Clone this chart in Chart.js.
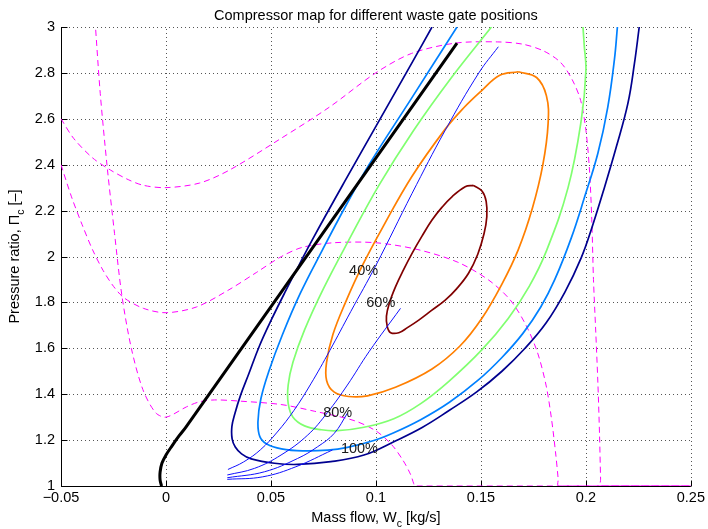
<!DOCTYPE html>
<html>
<head>
<meta charset="utf-8">
<script src="https://cdn.jsdelivr.net/npm/chart.js"></script>
<style>
html,body{margin:0;padding:0;background:#fff;}
canvas{display:block;}
</style>
</head>
<body>
<canvas id="c" width="708" height="529"></canvas>
<script>
// ---------------- data (mass flow W [kg/s], pressure ratio Pi [-]) ----------------
const titleText = 'Compressor map for different waste gate positions';
const xTickLabels = ['\u22120.05', '0', '0.05', '0.1', '0.15', '0.2', '0.25'];
const yTickLabels = ['1', '1.2', '1.4', '1.6', '1.8', '2', '2.2', '2.4', '2.6', '2.8', '3'];

// surge line (thick black)
const surgeW  = [-0.0021, -0.0028, -0.0028, -0.0019, 0.0, 0.0028, 0.0062, 0.0095, 0.1386];
const surgePi = [1.0, 1.026, 1.061, 1.100, 1.135, 1.174, 1.218, 1.257, 2.93];

// speed lines (magenta dashed)
const speed1W  = [-0.05, -0.044, -0.035, -0.0265, -0.018, -0.0107, 0, 0.016, 0.0303, 0.054, 0.0777, 0.0999, 0.117, 0.138, 0.158, 0.170, 0.180, 0.188, 0.1935, 0.1975, 0.2, 0.2017, 0.2028, 0.2036, 0.2047, 0.2057, 0.2065, 0.207, 0.2072, 0.25];
const speed1Pi = [2.60, 2.515, 2.43, 2.377, 2.335, 2.31, 2.30, 2.32, 2.377, 2.51, 2.65, 2.80, 2.885, 2.93, 2.935, 2.925, 2.895, 2.845, 2.77, 2.68, 2.55, 2.377, 2.16, 1.90, 1.67, 1.45, 1.22, 1.03, 1.0, 1.0];
const speed2W  = [-0.05, -0.045, -0.040, -0.035, -0.030, -0.025, -0.020, -0.0107, 0, 0.0145, 0.03, 0.043, 0.055, 0.065, 0.08, 0.0999, 0.12, 0.139, 0.1536, 0.164, 0.1715, 0.177, 0.181, 0.1835, 0.1855, 0.1868, 0.187, 0.25];
const speed2Pi = [2.40, 2.26, 2.14, 2.03, 1.94, 1.87, 1.82, 1.774, 1.755, 1.78, 1.855, 1.93, 2.0, 2.04, 2.06, 2.06, 2.03, 1.975, 1.898, 1.81, 1.70, 1.58, 1.44, 1.30, 1.15, 1.03, 1.0, 1.0];
const speed3W  = [-0.0338, -0.0313, -0.028, -0.0245, -0.021, -0.0165, -0.011, -0.005, 0, 0.0098, 0.016, 0.0232, 0.035, 0.0548, 0.0706, 0.0896, 0.1, 0.1075, 0.113, 0.1165, 0.118, 0.1185, 0.25];
const speed3Pi = [3.03, 2.71, 2.39, 2.10, 1.83, 1.60, 1.42, 1.32, 1.30, 1.345, 1.367, 1.375, 1.37, 1.355, 1.326, 1.285, 1.24, 1.18, 1.11, 1.05, 1.01, 1.0, 1.0];

// efficiency contours (outer -> inner)
const eff1W  = [0.1267, 0.1172, 0.1014, 0.0856, 0.0698, 0.0635, 0.057, 0.0505, 0.0445, 0.0395, 0.0355, 0.0328, 0.0314, 0.0315, 0.033, 0.036, 0.0406, 0.0517, 0.0627, 0.0785, 0.0943, 0.1085, 0.122, 0.135, 0.148, 0.160, 0.171, 0.181, 0.190, 0.1978, 0.203, 0.2088, 0.2145, 0.22, 0.2231, 0.2254];
const eff1Pi = [3.0, 2.845, 2.59, 2.335, 2.075, 1.965, 1.85, 1.73, 1.61, 1.49, 1.395, 1.315, 1.26, 1.205, 1.17, 1.14, 1.118, 1.099, 1.094, 1.106, 1.135, 1.193, 1.255, 1.33, 1.41, 1.50, 1.60, 1.71, 1.845, 1.995, 2.13, 2.30, 2.478, 2.667, 2.84, 3.0];
const eff2W  = [0.1386, 0.117, 0.0967, 0.0856, 0.0746, 0.064, 0.0555, 0.049, 0.0452, 0.0438, 0.0447, 0.048, 0.055, 0.065, 0.077, 0.0864, 0.099, 0.1085, 0.1215, 0.135, 0.1488, 0.160, 0.170, 0.1785, 0.1852, 0.193, 0.1994, 0.2057, 0.2104, 0.2136, 0.215];
const eff2Pi = [3.0, 2.69, 2.40, 2.22, 2.03, 1.84, 1.66, 1.50, 1.38, 1.28, 1.215, 1.183, 1.162, 1.153, 1.156, 1.168, 1.198, 1.232, 1.29, 1.365, 1.462, 1.56, 1.665, 1.78, 1.90, 2.08, 2.26, 2.45, 2.65, 2.86, 3.0];
const eff3W  = [0.155, 0.136, 0.118, 0.1014, 0.087, 0.075, 0.066, 0.0605, 0.0582, 0.0582, 0.0605, 0.066, 0.074, 0.0817, 0.0943, 0.1085, 0.1215, 0.1346, 0.1504, 0.163, 0.173, 0.181, 0.1915, 0.1978, 0.2, 0.1992, 0.1986];
const eff3Pi = [3.0, 2.78, 2.55, 2.31, 2.07, 1.86, 1.68, 1.54, 1.44, 1.36, 1.30, 1.262, 1.245, 1.241, 1.256, 1.293, 1.36, 1.455, 1.593, 1.73, 1.87, 2.02, 2.30, 2.595, 2.81, 2.92, 3.0];
const eff4W  = [0.1678, 0.159, 0.150, 0.1415, 0.133, 0.1172, 0.104, 0.0935, 0.0855, 0.0795, 0.0765, 0.0765, 0.080, 0.087, 0.096, 0.1093, 0.1267, 0.140, 0.1504, 0.160, 0.1678, 0.1745, 0.1795, 0.182, 0.1812, 0.1765, 0.1678];
const eff4Pi = [2.805, 2.79, 2.72, 2.645, 2.555, 2.35, 2.14, 1.96, 1.80, 1.66, 1.54, 1.46, 1.41, 1.39, 1.393, 1.43, 1.51, 1.61, 1.73, 1.88, 2.03, 2.21, 2.40, 2.58, 2.70, 2.78, 2.805];
const eff5W  = [0.1464, 0.1505, 0.1525, 0.1528, 0.1515, 0.1485, 0.1441, 0.1385, 0.133, 0.1265, 0.1204, 0.115, 0.1109, 0.107, 0.1054, 0.105, 0.1065, 0.1093, 0.113, 0.1172, 0.122, 0.1267, 0.1315, 0.1362, 0.1425, 0.1464];
const eff5Pi = [2.31, 2.285, 2.24, 2.173, 2.10, 2.01, 1.927, 1.86, 1.81, 1.765, 1.723, 1.69, 1.668, 1.668, 1.694, 1.74, 1.80, 1.868, 1.94, 2.014, 2.09, 2.159, 2.215, 2.26, 2.304, 2.31];

// waste gate operating lines (thin blue)
const wg40W   = [0.0295, 0.037, 0.045, 0.053, 0.061, 0.069, 0.078, 0.088, 0.0999, 0.1172, 0.133, 0.149, 0.1583];
const wg40Pi  = [1.072, 1.105, 1.158, 1.235, 1.33, 1.445, 1.59, 1.76, 1.96, 2.275, 2.55, 2.80, 2.914];
const wg60W   = [0.0292, 0.0422, 0.0548, 0.0675, 0.0769, 0.0864, 0.0967, 0.1117];
const wg60Pi  = [1.048, 1.077, 1.135, 1.222, 1.32, 1.44, 1.585, 1.774];
const wg80W   = [0.0292, 0.0469, 0.0627, 0.0722, 0.0801, 0.0864];
const wg80Pi  = [1.036, 1.062, 1.12, 1.171, 1.229, 1.317];
const wg100W  = [0.0292, 0.0461, 0.0619, 0.0793];
const wg100Pi = [1.029, 1.04, 1.084, 1.157];

// labels of waste gate lines (anchor = left edge / vertical middle, in data units)
const wgLabels  = ['40%', '60%', '80%', '100%'];
const wgLabelW  = [0.0872, 0.0954, 0.0749, 0.0833];
const wgLabelPi = [1.938, 1.796, 1.320, 1.163];

// ---------------- chart ----------------
const FONT = '"Liberation Sans", Arial, Helvetica, sans-serif';
Chart.defaults.font.family = FONT;

function pts(w, p) { return w.map((v, i) => ({x: v, y: p[i]})); }
function curve(w, p, color, width, extra) {
  return Object.assign({
    data: pts(w, p), borderColor: color, backgroundColor: color, borderWidth: width,
    pointRadius: 0, pointHoverRadius: 0, showLine: true, fill: false, tension: 0.4,
    borderJoinStyle: 'round'
  }, extra || {});
}

const datasets = [
  curve(surgeW, surgePi, '#000000', 3, {tension: 0.35}),
  curve(wg40W, wg40Pi, '#1010ff', 1),
  curve(wg60W, wg60Pi, '#1010ff', 1),
  curve(wg80W, wg80Pi, '#1010ff', 1),
  curve(wg100W, wg100Pi, '#1010ff', 1),
  curve(eff5W, eff5Pi, '#800000', 1.7),
  curve(eff4W, eff4Pi, '#ff7f00', 1.7),
  curve(eff3W, eff3Pi, '#80ff70', 1.7),
  curve(eff2W, eff2Pi, '#0080ff', 1.7),
  curve(eff1W, eff1Pi, '#00008f', 1.7),
  curve(speed1W, speed1Pi, '#ff00ff', 1, {borderDash: [6, 4], tension: 0.3}),
  curve(speed2W, speed2Pi, '#ff00ff', 1, {borderDash: [6, 4], tension: 0.3}),
  curve(speed3W, speed3Pi, '#ff00ff', 1, {borderDash: [6, 4], tension: 0.3})
];

const decor = {
  id: 'decor',
  beforeDatasetsDraw(chart) {
    const {ctx, chartArea: a, scales: {x, y}} = chart;
    ctx.save();
    ctx.strokeStyle = '#555';
    ctx.lineWidth = 1;
    ctx.setLineDash([1, 3]);
    x.ticks.forEach(t => {
      const px = Math.round(x.getPixelForValue(t.value)) + 0.5;
      ctx.beginPath(); ctx.moveTo(px, a.bottom); ctx.lineTo(px, a.top); ctx.stroke();
    });
    y.ticks.forEach(t => {
      const py = Math.round(y.getPixelForValue(t.value)) + 0.5;
      ctx.beginPath(); ctx.moveTo(a.left, py); ctx.lineTo(a.right, py); ctx.stroke();
    });
    ctx.setLineDash([]);
    ctx.strokeStyle = '#000';
    const L = Math.round(a.left) + 0.5, B = Math.round(a.bottom) + 0.5;
    ctx.beginPath(); ctx.moveTo(L, a.top); ctx.lineTo(L, B); ctx.lineTo(a.right, B); ctx.stroke();
    x.ticks.forEach(t => {
      const px = Math.round(x.getPixelForValue(t.value)) + 0.5;
      ctx.beginPath(); ctx.moveTo(px, B); ctx.lineTo(px, B - 6); ctx.stroke();
    });
    y.ticks.forEach(t => {
      const py = Math.round(y.getPixelForValue(t.value)) + 0.5;
      ctx.beginPath(); ctx.moveTo(L, py); ctx.lineTo(L + 6, py); ctx.stroke();
    });
    ctx.restore();
  },
  afterDraw(chart) {
    const {ctx, chartArea: a, scales: {x, y}} = chart;
    ctx.save();
    ctx.fillStyle = '#000';
    ctx.font = '14.5px ' + FONT;
    ctx.textAlign = 'center';
    ctx.textBaseline = 'alphabetic';
    ctx.fillText(titleText, (a.left + a.right) / 2, 20);
    ctx.fillStyle = '#1a1a1a';
    ctx.textAlign = 'left';
    ctx.textBaseline = 'middle';
    wgLabels.forEach((s, i) => {
      ctx.fillText(s, x.getPixelForValue(wgLabelW[i]), y.getPixelForValue(wgLabelPi[i]));
    });
    ctx.fillStyle = '#000';
    ctx.textAlign = 'left';
    ctx.textBaseline = 'alphabetic';
    function subText(parts, cx, cy) {
      const mainF = '14.5px ' + FONT, subF = '10.5px ' + FONT;
      ctx.font = mainF; const w1 = ctx.measureText(parts[0]).width, w3 = ctx.measureText(parts[2]).width;
      ctx.font = subF; const w2 = ctx.measureText(parts[1]).width;
      let sx = cx - (w1 + w2 + w3) / 2;
      ctx.font = mainF; ctx.fillText(parts[0], sx, cy); sx += w1;
      ctx.font = subF; ctx.fillText(parts[1], sx, cy + 5); sx += w2;
      ctx.font = mainF; ctx.fillText(parts[2], sx, cy);
    }
    subText(['Mass flow, W', 'c', ' [kg/s]'], (a.left + a.right) / 2, 522);
    ctx.save();
    ctx.translate(19, (a.top + a.bottom) / 2);
    ctx.rotate(-Math.PI / 2);
    subText(['Pressure ratio, \u03A0', 'c', ' [\u2013]'], 0, 0);
    ctx.restore();
    ctx.restore();
  }
};

new Chart(document.getElementById('c'), {
  type: 'scatter',
  data: {datasets},
  options: {
    responsive: false,
    animation: false,
    devicePixelRatio: 1,
    events: [],
    layout: {padding: {top: 27, right: 14, left: 0, bottom: 0}},
    plugins: {legend: {display: false}, title: {display: false}, tooltip: {enabled: false}},
    scales: {
      x: {
        type: 'linear', min: -0.05, max: 0.25,
        afterFit(s) { s.height = 43; },
        grid: {display: false, drawTicks: false},
        border: {display: false},
        ticks: {stepSize: 0.05, padding: 3, color: '#000', font: {size: 14.5}, maxRotation: 0,
          callback: (v, i) => xTickLabels[i]}
      },
      y: {
        type: 'linear', min: 1, max: 3,
        afterFit(s) { s.width = 61; },
        grid: {display: false, drawTicks: false},
        border: {display: false},
        ticks: {stepSize: 0.2, padding: 6, color: '#000', font: {size: 14.5},
          callback: (v, i) => yTickLabels[i]}
      }
    }
  },
  plugins: [decor]
});
</script>
</body>
</html>
